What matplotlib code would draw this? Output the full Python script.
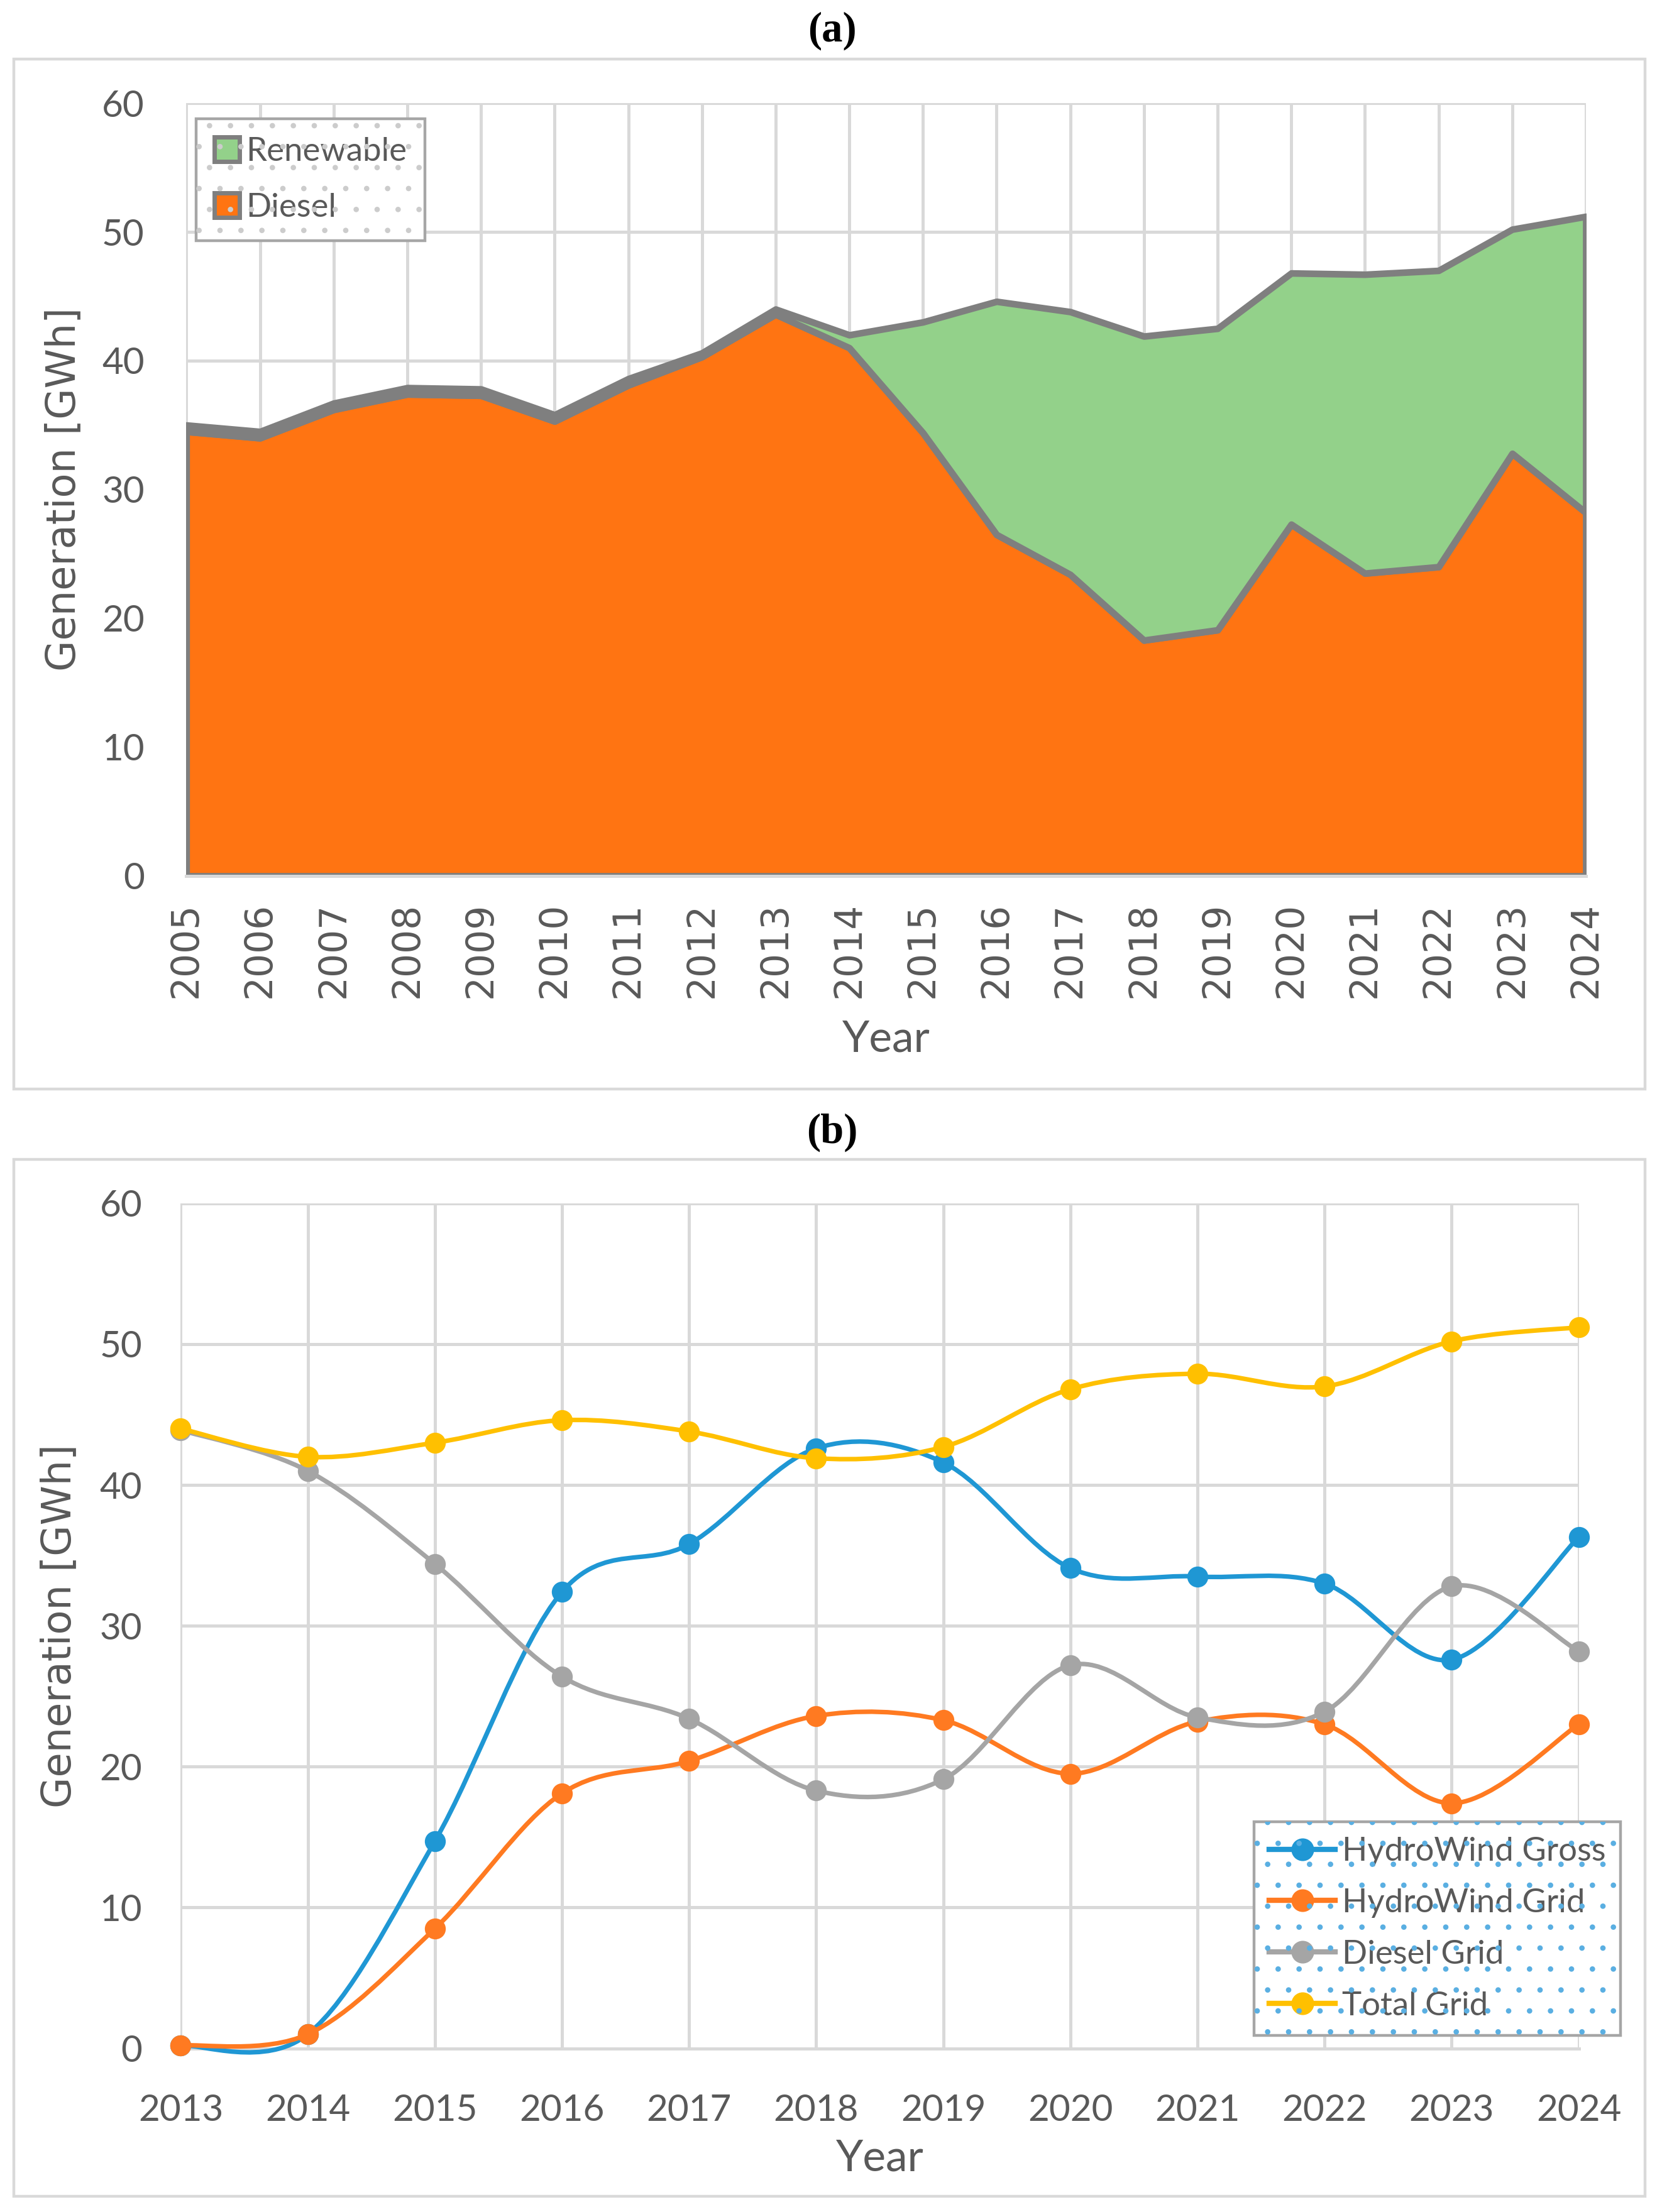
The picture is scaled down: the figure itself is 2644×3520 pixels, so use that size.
import matplotlib
matplotlib.use("Agg")
import matplotlib.pyplot as plt
import numpy as np
from matplotlib.path import Path
from matplotlib.patches import PathPatch, Patch, Rectangle
from matplotlib.lines import Line2D

# ---- data ----
years_a = list(range(2005, 2025))
diesel_a = [34.5, 34.0, 36.2, 37.4, 37.3, 35.3, 38.1, 40.3, 43.6, 41.0,
            34.4, 26.5, 23.4, 18.3, 19.1, 27.3, 23.5, 24.0, 32.8, 28.2]
renewable_a = [0.5, 0.5, 0.5, 0.5, 0.5, 0.5, 0.5, 0.3, 0.4, 1.0,
               8.6, 18.1, 20.4, 23.6, 23.4, 19.5, 23.2, 23.0, 17.4, 23.0]

years_b = list(range(2013, 2025))
hydro_gross = [0.2, 1.0, 14.7, 32.4, 35.8, 42.6, 41.6, 34.1, 33.5, 33.0, 27.6, 36.3]
hydro_grid = [0.2, 1.0, 8.5, 18.1, 20.4, 23.6, 23.3, 19.5, 23.2, 23.0, 17.4, 23.0]
diesel_grid = [43.9, 41.0, 34.4, 26.4, 23.4, 18.3, 19.1, 27.2, 23.5, 23.9, 32.8, 28.2]
total_grid = [44.0, 42.0, 43.0, 44.6, 43.8, 41.9, 42.7, 46.8, 47.9, 47.0, 50.2, 51.2]

labels_b = ["HydroWind Gross", "HydroWind Grid", "Diesel Grid", "Total Grid"]
colors_b = ["#1f97d4", "#ff7a21", "#a5a5a5", "#ffc000"]

TXT = "#595959"
GRID = "#d9d9d9"
OUTLINE = "#7f7f7f"
NARROW = ["Lato", "DejaVu Sans"]
WIDE = ["DejaVu Sans"]


def smooth_path(x, y):
    # excel style smoothed line: catmull-rom segments as cubic beziers
    x = np.asarray(x, float)
    y = np.asarray(y, float)
    n = len(x)
    verts = [(x[0], y[0])]
    codes = [Path.MOVETO]
    for i in range(n - 1):
        i0 = max(i - 1, 0)
        i3 = min(i + 2, n - 1)
        c1 = (x[i] + (x[i + 1] - x[i0]) / 6, y[i] + (y[i + 1] - y[i0]) / 6)
        c2 = (x[i + 1] - (x[i3] - x[i]) / 6, y[i + 1] - (y[i3] - y[i]) / 6)
        verts += [c1, c2, (x[i + 1], y[i + 1])]
        codes += [Path.CURVE4] * 3
    return Path(verts, codes)


def style_axes(ax):
    for s in ["top", "right", "left"]:
        ax.spines[s].set_visible(False)
    ax.spines["bottom"].set_color(GRID)
    ax.spines["bottom"].set_linewidth(1.8)
    ax.grid(True, color=GRID, linewidth=1.8)
    ax.set_axisbelow(True)
    ax.set_ylim(0, 60)
    ax.set_yticks(range(0, 61, 10))
    ax.tick_params(length=0, colors=TXT)
    for t in ax.get_yticklabels():
        t.set_family(NARROW)
        t.set_fontsize(21)


def dotted_bg(fig, leg, color):
    fig.canvas.draw()
    bb = leg.get_frame().get_window_extent(fig.canvas.get_renderer())
    bb = bb.transformed(fig.transFigure.inverted())
    fig.patches.append(Rectangle((bb.x0, bb.y0), bb.width, bb.height,
                                 transform=fig.transFigure, facecolor="none",
                                 edgecolor=color, linewidth=0, hatch=".",
                                 zorder=5, figure=fig))


plt.rcParams["hatch.linewidth"] = 0.7
fig = plt.figure(figsize=(13.22, 17.6), dpi=200)

# panel frames and titles
for y0, h in [(0.5077, 0.4655), (0.0070, 0.4688)]:
    fig.patches.append(Rectangle((0.0085, y0), 0.9813, h, transform=fig.transFigure,
                                 facecolor="none", edgecolor=GRID, linewidth=1.6,
                                 figure=fig))
fig.text(0.5008, 0.986, "(a)", ha="center", va="center", fontsize=24,
         family=["Liberation Serif", "DejaVu Serif"], fontweight="bold", color="black")
fig.text(0.5008, 0.4879, "(b)", ha="center", va="center", fontsize=24,
         family=["Liberation Serif", "DejaVu Serif"], fontweight="bold", color="black")

# ---- panel (a): stacked area ----
ax1 = fig.add_axes([0.1121, 0.6040, 0.8421, 0.3494])
total_a = np.array(diesel_a) + np.array(renewable_a)
ax1.fill_between(years_a, 0, diesel_a, facecolor="#ff7412", edgecolor=OUTLINE,
                 linewidth=3.8, zorder=2)
ax1.fill_between(years_a, diesel_a, total_a, facecolor="#93d18a", edgecolor=OUTLINE,
                 linewidth=3.8, zorder=3)
ax1.set_xlim(2005, 2024)
ax1.set_xticks(years_a)
style_axes(ax1)
ax1.tick_params(axis="y", pad=24)
ax1.tick_params(axis="x", pad=15, labelrotation=90)
for t in ax1.get_xticklabels():
    t.set_family(WIDE)
    t.set_fontsize(21.5)
ax1.set_xlabel("Year", fontsize=25, color=TXT, family=NARROW)
ax1.xaxis.set_label_coords(0.5, -0.2117)
ax1.xaxis.label.set_va("center")
ax1.set_ylabel("Generation [GWh]", fontsize=23, color=TXT, family=WIDE)
ax1.yaxis.set_label_coords(-0.0877, 0.5)
ax1.yaxis.label.set_va("center")

handles_a = [Patch(facecolor="#93d18a", edgecolor=OUTLINE, linewidth=2.5, label="Renewable"),
             Patch(facecolor="#ff7412", edgecolor=OUTLINE, linewidth=2.5, label="Diesel")]
leg1 = ax1.legend(handles=handles_a, loc="upper left", bbox_to_anchor=(0.007, 0.98),
                  borderaxespad=0, prop={"family": NARROW, "size": 19},
                  handlelength=0.75, handleheight=0.75, handletextpad=0.2,
                  labelspacing=0.8, borderpad=0.55, fancybox=False,
                  framealpha=1, edgecolor="#a6a6a6", labelcolor=TXT)
leg1.get_frame().set_linewidth(1.6)

# ---- panel (b): smoothed lines ----
ax2 = fig.add_axes([0.1087, 0.0740, 0.8412, 0.3820])
series_b = [hydro_gross, hydro_grid, diesel_grid, total_grid]
for k, (vals, col) in enumerate(zip(series_b, colors_b)):
    ax2.add_patch(PathPatch(smooth_path(years_b, vals), facecolor="none", edgecolor=col,
                            linewidth=2.6, capstyle="round", joinstyle="round",
                            zorder=3 + k, clip_on=False))
    ax2.plot(years_b, vals, linestyle="none", marker="o", markersize=11,
             color=col, zorder=3.5 + k, clip_on=False)
ax2.set_xlim(2013, 2024)
ax2.set_xticks(years_b)
style_axes(ax2)
ax2.tick_params(axis="y", pad=22)
ax2.tick_params(axis="x", pad=26)
for t in ax2.get_xticklabels():
    t.set_family(NARROW)
    t.set_fontsize(21)
ax2.set_xlabel("Year", fontsize=25, color=TXT, family=NARROW)
ax2.xaxis.set_label_coords(0.5, -0.1302)
ax2.xaxis.label.set_va("center")
ax2.set_ylabel("Generation [GWh]", fontsize=23, color=TXT, family=WIDE)
ax2.yaxis.set_label_coords(-0.0868, 0.5)
ax2.yaxis.label.set_va("center")

handles_b = [Line2D([], [], color=c, linewidth=3, marker="o", markersize=12, label=l)
             for c, l in zip(colors_b, labels_b)]
leg2 = ax2.legend(handles=handles_b, loc="lower right", bbox_to_anchor=(1.03, 0.015),
                  borderaxespad=0, prop={"family": NARROW, "size": 19},
                  handlelength=2.0, handletextpad=0.2, labelspacing=0.66,
                  borderpad=0.45, fancybox=False, framealpha=1,
                  edgecolor="#a6a6a6", labelcolor=TXT)
leg2.get_frame().set_linewidth(1.6)
leg2.set_zorder(20)

dotted_bg(fig, leg1, "#cccccc")
dotted_bg(fig, leg2, "#5aafe2")

fig.savefig("out.png", dpi=200)
